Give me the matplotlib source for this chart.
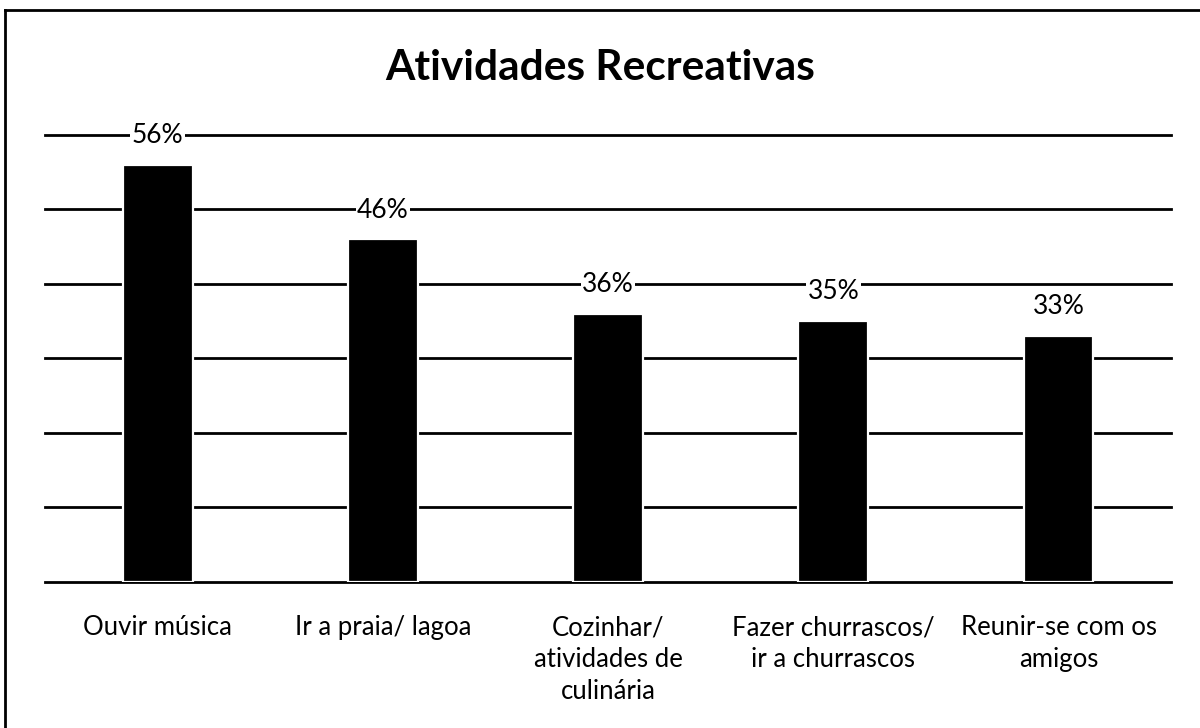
import matplotlib
matplotlib.use("Agg")
import matplotlib.pyplot as plt
from matplotlib.lines import Line2D
import numpy as np

# Chart data
categories = [
    "Ouvir música",
    "Ir a praia/ lagoa",
    "Cozinhar/\natividades de\nculinária",
    "Fazer churrascos/\nir a churrascos",
    "Reunir-se com os\namigos",
]
values = [56, 46, 36, 35, 33]
value_labels = ["56%", "46%", "36%", "35%", "33%"]
y_ticks = [0, 10, 20, 30, 40, 50, 60]

plt.rcParams["font.family"] = ["Lato", "DejaVu Sans"]

fig = plt.figure(figsize=(12, 7.28), dpi=100)
ax = fig.add_axes([0.0375, 0.201, 0.9385, 0.6136])

x = np.arange(len(categories))

# gridlines
for yv in y_ticks:
    ax.axhline(yv, color="black", linewidth=2.0, zorder=1, clip_on=False)

ax.bar(x, values, width=0.31, color="black", edgecolor="white",
       linewidth=1.6, zorder=2)

for xi, v, lab in zip(x, values, value_labels):
    ax.annotate(lab, (xi, v), xytext=(0, 21), textcoords="offset points",
                ha="center", va="center", fontsize=19, color="black",
                zorder=3,
                bbox=dict(boxstyle="square,pad=0.05", fc="white", ec="none"))

ax.set_xlim(-0.5, len(categories) - 0.5)
ax.set_ylim(0, 60)
ax.set_yticks([])
ax.set_xticks(x)
ax.set_xticklabels(categories, fontsize=18.5, linespacing=1.35)
ax.tick_params(axis="x", length=0, pad=24)
for s in ax.spines.values():
    s.set_visible(False)

fig.suptitle("Atividades Recreativas", fontsize=30.5, fontweight="bold",
             y=1 - 68 / 728, va="center")

# outer border (top and left)
fig.add_artist(Line2D([5 / 1200, 1.0], [1 - 10 / 728, 1 - 10 / 728],
                      transform=fig.transFigure, color="black", linewidth=2))
fig.add_artist(Line2D([5 / 1200, 5 / 1200], [0.0, 1 - 10 / 728],
                      transform=fig.transFigure, color="black", linewidth=2))

fig.savefig("out.png", dpi=100, facecolor="white")
